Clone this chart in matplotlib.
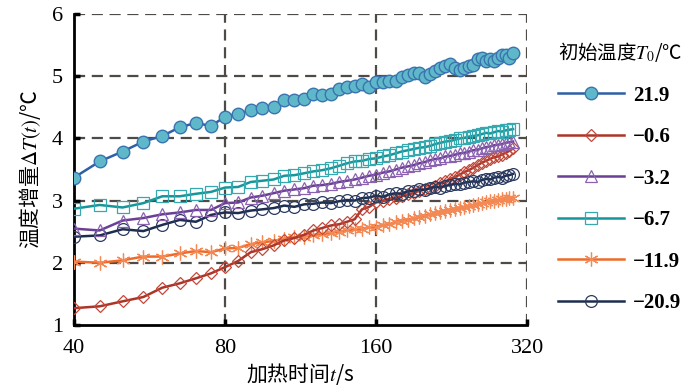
import numpy as np
import matplotlib
matplotlib.use("Agg")
import matplotlib.pyplot as plt
from matplotlib.ticker import FixedLocator, FixedFormatter, NullLocator

plt.rcParams['font.family'] = ['Liberation Serif', 'Noto Sans CJK SC', 'DejaVu Sans']
plt.rcParams['mathtext.fontset'] = 'stix'

t = list(range(40, 301, 5))

s_21_9 = [3.37, 3.63, 3.79, 3.95, 4.04, 4.18, 4.25, 4.20, 4.35,
          4.40, 4.45, 4.49, 4.51, 4.62, 4.62, 4.64, 4.72, 4.70, 4.72, 4.80, 4.82, 4.85, 4.87, 4.82, 4.91,
          4.91, 4.92, 4.92, 4.99, 5.02, 5.05, 5.05, 4.99, 5.04, 5.08, 5.14, 5.17, 5.19, 5.14, 5.10, 5.13,
          5.16, 5.18, 5.27, 5.30, 5.25, 5.27, 5.24, 5.29, 5.34, 5.35, 5.30, 5.37]
s_m0_6 = [1.27, 1.30, 1.38, 1.45, 1.60, 1.67, 1.75, 1.83, 1.93,
          2.03, 2.17, 2.22, 2.28, 2.36, 2.40, 2.45, 2.52, 2.56, 2.60, 2.62, 2.66, 2.70, 2.86, 2.90, 2.97,
          3.00, 3.03, 3.04, 3.07, 3.10, 3.12, 3.16, 3.18, 3.20, 3.24, 3.28, 3.31, 3.35, 3.38, 3.42, 3.46,
          3.49, 3.53, 3.57, 3.61, 3.64, 3.67, 3.70, 3.71, 3.74, 3.77, 3.80, 3.84]
s_m3_2 = [2.55, 2.52, 2.68, 2.72, 2.78, 2.81, 2.85, 2.85, 2.96,
          2.97, 3.05, 3.08, 3.12, 3.16, 3.18, 3.20, 3.24, 3.25, 3.27, 3.30, 3.32, 3.34, 3.37, 3.40, 3.42,
          3.45, 3.47, 3.50, 3.53, 3.55, 3.57, 3.60, 3.62, 3.65, 3.67, 3.68, 3.71, 3.72, 3.74, 3.76, 3.77,
          3.79, 3.81, 3.82, 3.84, 3.86, 3.87, 3.89, 3.90, 3.91, 3.93, 3.94, 3.95]
s_m6_7 = [2.87, 2.93, 2.89, 2.96, 3.07, 3.07, 3.11, 3.14, 3.21,
          3.22, 3.30, 3.32, 3.34, 3.40, 3.41, 3.44, 3.47, 3.49, 3.52, 3.56, 3.60, 3.63, 3.64, 3.67, 3.68,
          3.71, 3.73, 3.76, 3.79, 3.81, 3.83, 3.85, 3.86, 3.88, 3.91, 3.93, 3.95, 3.96, 3.98, 4.00, 4.01,
          4.03, 4.04, 4.05, 4.07, 4.09, 4.08, 4.10, 4.12, 4.11, 4.13, 4.14, 4.15]
s_m11_9 = [2.02, 2.00, 2.04, 2.10, 2.10, 2.15, 2.19, 2.17, 2.23,
           2.24, 2.30, 2.33, 2.35, 2.39, 2.41, 2.42, 2.45, 2.46, 2.48, 2.50, 2.52, 2.54, 2.55, 2.57, 2.58,
           2.61, 2.62, 2.66, 2.68, 2.69, 2.72, 2.73, 2.76, 2.78, 2.80, 2.82, 2.84, 2.85, 2.87, 2.88, 2.90,
           2.91, 2.93, 2.94, 2.96, 2.97, 2.99, 3.00, 3.01, 3.02, 3.03, 3.04, 3.05]
s_m20_9 = [2.42, 2.44, 2.54, 2.51, 2.61, 2.69, 2.66, 2.77, 2.81,
           2.80, 2.84, 2.86, 2.88, 2.92, 2.90, 2.94, 2.95, 2.97, 2.96, 2.99, 3.01, 3.00, 3.04, 3.05, 3.08,
           3.06, 3.10, 3.12, 3.11, 3.15, 3.16, 3.18, 3.17, 3.20, 3.22, 3.21, 3.24, 3.25, 3.27, 3.26, 3.29,
           3.30, 3.31, 3.30, 3.33, 3.35, 3.34, 3.37, 3.38, 3.37, 3.40, 3.41, 3.43]

labels = ['21.9', '\u22120.6', '\u22123.2', '\u22126.7', '\u221211.9', '\u221220.9']
xticks = [40, 80, 160, 320]
yticks = [1, 2, 3, 4, 5, 6]

fig = plt.figure(figsize=(7.0, 3.92), dpi=100)
ax = fig.add_axes([0.1057, 0.171, 0.6473, 0.793])

grid_kw = dict(color='#4d4a48', lw=1.6, ls=(0, (5.0, 3.0)), zorder=1)
for yv in yticks[1:]:
    ax.axhline(yv, **grid_kw)
for xv in xticks[1:]:
    ax.axvline(xv, **grid_kw)

styles = [
    dict(color='#2f5fa6', marker='o', ms=9, mfc='#5fb8c9', mec='#3a74b0', mew=1.0, lw=1.8, zorder=8),
    dict(color='#aa3528', marker='D', ms=6.2, mfc='none', mec='#c0493a', mew=0.9, lw=1.8, zorder=4),
    dict(color='#6a3f95', marker='^', ms=8, mfc='none', mec='#8a62b0', mew=0.9, lw=1.8, zorder=5),
    dict(color='#15969a', marker='s', ms=8, mfc='none', mec='#35a8b0', mew=0.9, lw=1.8, zorder=6),
    dict(color='#f06a2a', marker=(6, 2, 0), ms=10, mfc='none', mec='#f38a55', mew=0.9, lw=1.8, zorder=3),
    dict(color='#1e2d4f', marker='o', ms=8.5, mfc='none', mec='#2b3a60', mew=0.9, lw=1.8, zorder=4),
]
series = [s_21_9, s_m0_6, s_m3_2, s_m6_7, s_m11_9, s_m20_9]
handles = []
for s, st, lab in zip(series, styles, labels):
    h, = ax.plot(t, s, label=lab, **st)
    handles.append(h)

ax.set_xscale('log', base=2)
ax.set_xlim(40, 320)
ax.set_ylim(1, 6)
ax.xaxis.set_major_locator(FixedLocator(xticks))
ax.xaxis.set_major_formatter(FixedFormatter([str(v) for v in xticks]))
ax.xaxis.set_minor_locator(NullLocator())
ax.set_yticks(yticks)
ax.set_yticklabels([str(v) for v in yticks])

for sp in ['top', 'right']:
    ax.spines[sp].set_visible(False)
for sp in ['left', 'bottom']:
    ax.spines[sp].set_linewidth(2.0)
    ax.spines[sp].set_color('black')
ax.tick_params(axis='both', direction='in', length=4, width=2.5, labelsize=16, pad=8)
ax.tick_params(axis='x', pad=10)

ax.set_xlabel('加热时间$t$/s', fontsize=15, family=['Noto Sans CJK SC', 'DejaVu Sans'], labelpad=2)
ax.set_ylabel('温度增量$\\Delta T(t)$/℃', fontsize=15, family=['Noto Sans CJK SC', 'DejaVu Sans'], labelpad=6)

leg = fig.legend(handles=handles, labels=labels, loc='upper left', bbox_to_anchor=(0.77, 0.945),
                 frameon=False, handlelength=3.2, labelspacing=1.03, handletextpad=0.4,
                 prop=dict(family='Liberation Serif', weight='bold', size=15),
                 title='初始温度$T_0$/℃',
                 title_fontproperties=dict(family=['Noto Sans CJK SC', 'DejaVu Sans'], size=14))
leg._legend_box.align = 'left'

fig.savefig('out.png', dpi=100)
